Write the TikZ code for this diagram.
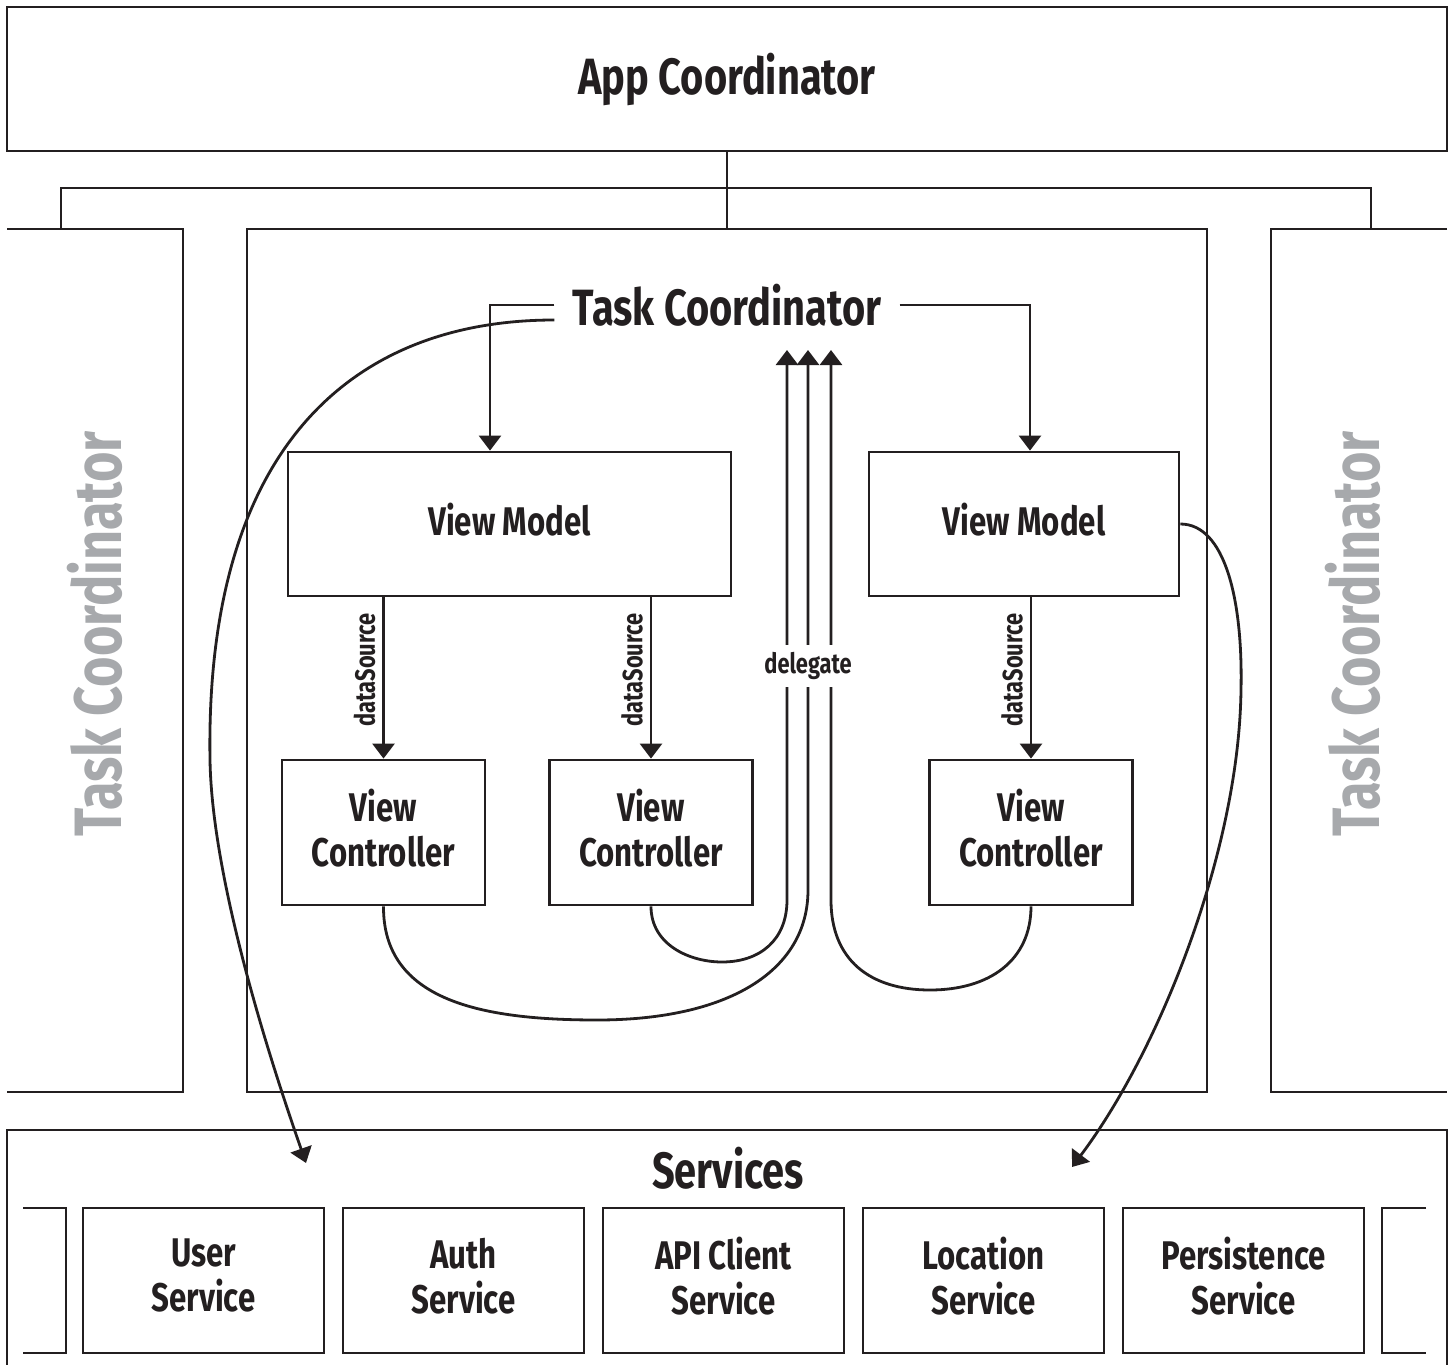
\documentclass[tikz,border=0pt]{standalone}
\usepackage{fontspec}
\setmainfont{Fira Sans}[FakeStretch=0.78]
\usetikzlibrary{arrows.meta}
\definecolor{ink}{RGB}{35,31,32}
\definecolor{fade}{RGB}{167,169,172}
\tikzset{
  box/.style={draw, inner sep=0pt, align=center, font=\fontsize{20}{22.5}\selectfont\bfseries, text depth=5pt},
  big/.style={font=\fontsize{25.5}{30}\selectfont\bfseries},
  lbl/.style={font=\fontsize{14}{16}\selectfont\bfseries},
  ghost/.style={font=\fontsize{33.5}{40}\selectfont\bfseries, text=fade, rotate=90},
}
\begin{document}
\begin{tikzpicture}[x=0.5pt, y=-0.5pt, color=ink, line width=1.4pt, >={Triangle[width=11pt,length=7.5pt]}]
\useasboundingbox (0,0) rectangle (1453,1365);
% top level
\node[draw, big, inner sep=0pt, minimum width=720pt, minimum height=72pt] (app) at (727,79) {App Coordinator};
\node[draw, minimum width=480pt, minimum height=431.5pt] (tcbox) at (727,660.5) {};
\draw (7,229) -- (183,229) -- (183,1092) -- (7,1092);
\draw (1447,229) -- (1271,229) -- (1271,1092) -- (1447,1092);
\node[ghost] (tcl) at (95,634) {Task Coordinator};
\node[ghost] (tcr) at (1353,634) {Task Coordinator};
\coordinate (bus) at (727,188);
\coordinate (busl) at (61,229);
\coordinate (busr) at (1371,229);
\draw (app.south) -- (tcbox.north);
\draw (busl) |- (bus) -| (busr);
% task coordinator
\node[big, inner xsep=8.5pt] (tc) at (727,305) {Task Coordinator};
\node[box, minimum width=221.5pt, minimum height=72pt] (vm1) at (509.5,524) {View Model};
\node[box, minimum width=155pt, minimum height=72pt] (vm2) at (1024,524) {View Model};
\node[box, minimum width=101.5pt, minimum height=72.5pt] (vc1) at (383.5,832.5) {View\\Controller};
\node[box, minimum width=101.5pt, minimum height=72.5pt] (vc2) at (651,832.5) {View\\Controller};
\node[box, minimum width=101.5pt, minimum height=72.5pt] (vc3) at (1031,832.5) {View\\Controller};
\draw[->] (tc.west) -| ([xshift=-9.75pt]vm1.north);
\draw[->] (tc.east) -| ([xshift=3pt]vm2.north);
\draw[->] (vc1.north |- vm1.south) -- node[lbl, rotate=90, anchor=south, pos=0.45] (ds1) {dataSource} (vc1.north);
\draw[->] (vc2.north |- vm1.south) -- node[lbl, rotate=90, anchor=south, pos=0.45] (ds2) {dataSource} (vc2.north);
\draw[->] (vc3.north |- vm2.south) -- node[lbl, rotate=90, anchor=south, pos=0.45] (ds3) {dataSource} (vc3.north);
% delegates
\coordinate (d1) at (787,350);
\coordinate (d2) at (808,350);
\coordinate (d3) at (831,350);
\draw[->] (vc2.south) .. controls (651,945) and (690,962) .. (722,962) .. controls (760,962) and (787,940) .. (787,900) -- (d1);
\draw[->] (vc1.south) .. controls (383,1000) and (480,1020) .. (597,1020) .. controls (730,1020) and (808,970) .. (808,890) -- (d2);
\draw[->] (vc3.south) .. controls (1031,960) and (990,990) .. (930,990) .. controls (870,990) and (831,960) .. (831,900) -- (d3);
\node[lbl, fill=white, minimum height=21pt, inner xsep=1pt] (dlg) at (808,666) {delegate};
% services
\draw (7,1370) |- (1447,1130) -- (1447,1370);
\node[big] (srv) at (728,1168) {Services};
\draw (23,1208) -| (66,1353) -- (23,1353);
\draw (1426,1208) -| (1382,1353) -- (1426,1353);
\foreach \nm/\txt [count=\i from 0] in {usr/User, auth/Auth, api/API Client, loc/Location, pers/Persistence}
  \node[box, minimum width=120.5pt, minimum height=72.5pt] (\nm) at (203.5+260*\i,1280.5) {\txt\\Service};
\coordinate (usrIn) at (306,1163);
\coordinate (locIn) at (1072,1167);
\draw[->] ([yshift=-7.5pt]tc.west) .. controls (350,320) and (205,450) .. (210,760) .. controls (212,880) and (270,1060) .. (usrIn);
\draw[->] (vm2.east) .. controls (1225,524) and (1243,600) .. (1241,690) .. controls (1239,850) and (1160,1050) .. (locIn);
\end{tikzpicture}
\end{document}
